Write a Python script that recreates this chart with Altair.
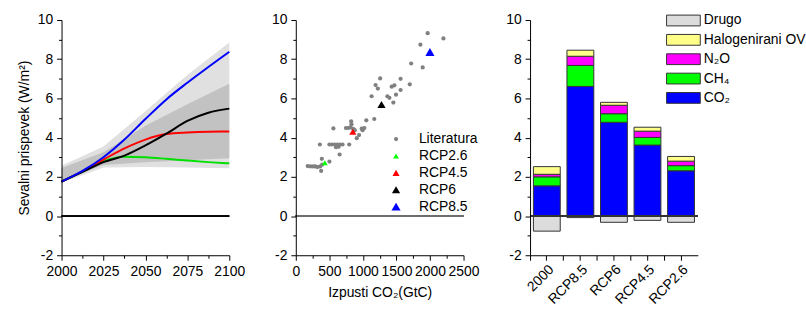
import altair as alt
import pandas as pd

FONT = "Liberation Sans"

# ---------- Panel 1: forcing pathways ----------
years = [2000, 2012.5, 2025, 2037.5, 2050, 2062.5, 2075, 2087.5, 2100]
rcp85 = [1.76, 2.30, 3.00, 3.90, 4.95, 5.95, 6.80, 7.60, 8.38]
rcp60 = [1.76, 2.25, 2.75, 3.08, 3.60, 4.20, 4.85, 5.27, 5.48]
rcp45 = [1.76, 2.28, 2.88, 3.45, 3.90, 4.18, 4.26, 4.30, 4.31]
rcp26 = [1.76, 2.27, 2.80, 3.03, 3.00, 2.92, 2.83, 2.75, 2.69]

band_years = [2000, 2025, 2050, 2075, 2100]
outer_lo = [1.70, 2.48, 2.50, 2.47, 2.44]
outer_hi = [2.57, 3.55, 5.35, 7.20, 8.85]
inner_lo = [1.80, 2.60, 2.75, 2.85, 2.95]
inner_hi = [2.45, 3.25, 4.60, 5.70, 6.75]

# ---------- Panel 2: emissions vs forcing ----------
lit_x = [1965, 2200, 1857, 1719, 1891, 1699, 1562, 1257, 1189, 1223, 1130, 1365,
         1395, 1429, 1469, 1493, 1562, 1454, 1169, 1051, 1022, 982, 995, 943, 909,
         825, 830, 747, 781, 815, 855, 879, 560, 359, 501, 540, 580, 619, 658, 697,
         599, 639, 796, 653, 177, 216, 255, 290, 324, 363, 393, 388, 378, 501]
lit_y = [9.33, 9.06, 8.74, 7.78, 7.58, 6.72, 7.00, 7.02, 6.68, 6.50, 6.11, 6.11,
         6.03, 6.60, 6.67, 6.19, 6.43, 5.79, 4.95, 4.88, 4.49, 4.46, 4.38, 4.13, 3.97,
         4.83, 4.68, 4.49, 4.49, 4.52, 4.45, 4.38, 4.47, 3.65, 3.65, 3.65, 3.65, 3.65,
         3.65, 3.65, 3.51, 3.54, 3.65, 3.14, 2.55, 2.53, 2.53, 2.53, 2.50, 2.53, 2.62,
         2.92, 2.30, 2.78]
rcp_names = ["RCP2.6", "RCP4.5", "RCP6", "RCP8.5"]
rcp_x = [432, 850, 1277, 1999]
rcp_y = [2.72, 4.30, 5.69, 8.37]

# ---------- Panel 3: stacked contributions ----------
bar_cats = ["2000", "RCP8.5", "RCP6", "RCP4.5", "RCP2.6"]
co2 = [1.54, 6.61, 4.78, 3.62, 2.31]
ch4 = [0.46, 1.07, 0.44, 0.39, 0.26]
n2o = [0.13, 0.47, 0.43, 0.32, 0.23]
halo = [0.39, 0.31, 0.15, 0.20, 0.24]
drugo = [-0.77, -0.08, -0.32, -0.22, -0.32]
gas_names = ["Drugo", "Halogenirani OV", "N\u2082O", "CH\u2084", "CO\u2082"]
gas_colors = ["#dcdcdc", "#ffff88", "#ff00ff", "#00ff00", "#0000ff"]

# tick values
y_major = [-2, 0, 2, 4, 6, 8, 10]
y_minor = [-1, 1, 3, 5, 7, 9]
yr_major = [2000, 2025, 2050, 2075, 2100]
yr_minor = [2012.5, 2037.5, 2062.5, 2087.5]
em_major = [0, 500, 1000, 1500, 2000, 2500]
em_minor = [250, 750, 1250, 1750, 2250]

W, H = 169, 237

AX = dict(domainColor="black", tickColor="black", labelColor="black", titleColor="black",
          labelFont=FONT, titleFont=FONT, labelFontSize=14, titleFontSize=14,
          titleFontWeight="normal", labelPadding=4, grid=False, labelOverlap=False,
          labelFlush=False, zindex=1, tickSize=5)
MINOR = dict(labels=False, domain=False, title=None, grid=False, tickSize=3,
             tickColor="black", zindex=1)
MINUS = "replace(datum.label, '\u2212', '-')"


def y_axis(title=None, **kw):
    return alt.Axis(values=y_major, labelExpr=MINUS, title=title, orient="left", **AX, **kw)


yscale = alt.Scale(domain=[-2, 10], nice=False, zero=False)
ZERO_Y = alt.YDatum(0, axis=None)

# ----- Panel 1 -----
lines_df = pd.DataFrame({"year": years * 4,
                         "value": rcp26 + rcp45 + rcp60 + rcp85,
                         "s": ["RCP2.6"] * 9 + ["RCP4.5"] * 9 + ["RCP6"] * 9 + ["RCP8.5"] * 9})
band_df = pd.DataFrame({"year": band_years, "olo": outer_lo, "ohi": outer_hi,
                        "ilo": inner_lo, "ihi": inner_hi})

xl = alt.X("year:Q", scale=alt.Scale(domain=[2000, 2100], nice=False, zero=False),
           axis=alt.Axis(values=yr_major, format="d", title=None, orient="bottom", **AX))
XN = alt.X("year:Q", axis=None)

outer = alt.Chart(band_df).mark_area(color="#e0e0e0").encode(
    x=xl, y=alt.Y("olo:Q", scale=yscale, axis=y_axis("Sevalni prispevek (W/m\u00b2)", titlePadding=6)),
    y2="ohi:Q")
inner = alt.Chart(band_df).mark_area(color="#c2c2c2").encode(
    x=XN, y=alt.Y("ilo:Q", axis=None), y2="ihi:Q")
zero1 = alt.Chart(band_df).mark_rule(color="black", strokeWidth=1).encode(y=ZERO_Y)
line_colors = {"RCP2.6": "#00e000", "RCP4.5": "#ff0000", "RCP6": "#000000", "RCP8.5": "#0000ff"}
line_layers = [
    alt.Chart(lines_df[lines_df.s == s]).mark_line(color=c, strokeWidth=2, interpolate="monotone").encode(
        x=XN, y=alt.Y("value:Q", axis=None))
    for s, c in line_colors.items()]
minor1 = alt.Chart(band_df).mark_point(opacity=0).encode(
    x=alt.X("year:Q", axis=alt.Axis(values=yr_minor, orient="bottom", **MINOR)),
    y=alt.Y("olo:Q", axis=alt.Axis(values=y_minor, orient="left", **MINOR)))
left = alt.layer(outer, inner, zero1, *line_layers, minor1).resolve_axis(
    x="independent", y="independent").properties(width=W, height=H)

# ----- Panel 2 -----
sc_df = pd.DataFrame({"em": lit_x + rcp_x, "f": lit_y + rcp_y,
                      "series": ["Literatura"] * len(lit_x) + rcp_names})
series_dom = ["Literatura"] + rcp_names
xm = alt.X("em:Q", scale=alt.Scale(domain=[0, 2500], nice=False, zero=False),
           axis=alt.Axis(values=em_major, format="d", title="Izpusti CO\u2082(GtC)",
                         titlePadding=8, orient="bottom", **AX))
zero2 = alt.Chart(sc_df).mark_rule(color="#6e6e6e", strokeWidth=2).encode(y=ZERO_Y)
LEG2 = dict(title=None, orient="none", legendX=94, legendY=113, labelFontSize=14,
            labelFont=FONT, labelColor="black", labelOffset=16, rowPadding=3,
            symbolStrokeWidth=0)
pts = alt.Chart(sc_df).mark_point(filled=True, opacity=1, strokeWidth=0).encode(
    x=xm,
    y=alt.Y("f:Q", scale=yscale, axis=y_axis()),
    color=alt.Color("series:N", scale=alt.Scale(domain=series_dom,
                    range=["#808080", "#00ff00", "#ff0000", "#000000", "#0000ff"]),
                    legend=alt.Legend(**LEG2)),
    shape=alt.Shape("series:N", scale=alt.Scale(domain=series_dom,
                    range=["circle", "triangle-up", "triangle-up", "triangle-up", "triangle-up"]),
                    legend=alt.Legend(**LEG2)),
    size=alt.Size("series:N", scale=alt.Scale(domain=series_dom, range=[18, 85, 85, 85, 85]),
                  legend=alt.Legend(**LEG2)),
)
minor2 = alt.Chart(sc_df).mark_point(opacity=0).encode(
    x=alt.X("em:Q", axis=alt.Axis(values=em_minor, orient="bottom", **MINOR)),
    y=alt.Y("f:Q", axis=alt.Axis(values=y_minor, orient="left", **MINOR)))
mid = alt.layer(zero2, pts, minor2).resolve_axis(
    x="independent", y="independent").properties(width=W, height=H)

# ----- Panel 3 -----
rows = []
for i, cat in enumerate(bar_cats):
    for g, vals, o in [("CO\u2082", co2, 1), ("CH\u2084", ch4, 2), ("N\u2082O", n2o, 3),
                       ("Halogenirani OV", halo, 4), ("Drugo", drugo, 5)]:
        rows.append({"cat": cat, "gas": g, "v": vals[i], "ord": o})
bar_df = pd.DataFrame(rows)

AXB = dict(AX)
AXB["labelPadding"] = 2
bars = alt.Chart(bar_df).mark_bar(stroke="#333333", strokeWidth=1).encode(
    x=alt.X("cat:N", sort=bar_cats, scale=alt.Scale(paddingInner=0.2, paddingOuter=0.1),
            axis=alt.Axis(title=None, labelAngle=315, orient="bottom", **AXB)),
    y=alt.Y("v:Q", stack="zero", scale=yscale, axis=y_axis()),
    color=alt.Color("gas:N", scale=alt.Scale(domain=gas_names, range=gas_colors),
                    legend=alt.Legend(title=None, orient="none", legendX=137, legendY=-7,
                                      symbolType="M-1,-0.32H1V0.32H-1Z", symbolSize=1156,
                                      symbolStrokeColor="#333333", symbolStrokeWidth=1,
                                      clipHeight=15, rowPadding=4.5, labelOffset=3,
                                      labelFontSize=14, labelFont=FONT, labelColor="black")),
    order=alt.Order("ord:Q"),
)
zero3 = alt.Chart(bar_df).mark_rule(color="#333333", strokeWidth=1.5).encode(y=ZERO_Y)
minor3 = alt.Chart(bar_df).mark_point(opacity=0).encode(
    x=alt.X("cat:N", sort=bar_cats,
            axis=alt.Axis(orient="bottom", bandPosition=-0.125, **dict(MINOR, tickSize=5))),
    y=alt.Y("v:Q", axis=alt.Axis(values=y_minor, orient="left", **MINOR)))
right = alt.layer(bars, zero3, minor3).resolve_axis(
    x="independent", y="independent").properties(width=W, height=H)

chart = alt.hconcat(left, mid, right, spacing=67, bounds="flush").resolve_scale(
    color="independent", shape="independent", size="independent"
).resolve_legend(
    color="independent", shape="independent", size="independent"
).properties(
    padding={"left": 17, "top": 12, "right": 0, "bottom": 0},
    background="white",
).configure_view(stroke=None).configure_axis(labelOverlap=False)

chart.save("out.html", embed_options={"renderer": "svg", "actions": False})
